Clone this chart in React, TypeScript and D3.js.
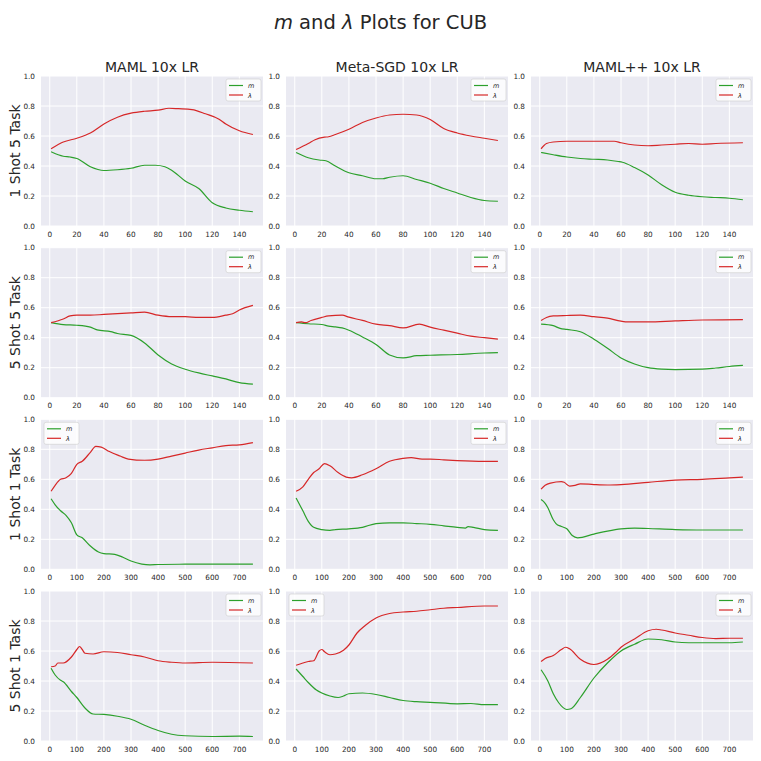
import React from "react";
import * as d3 from "d3";

type Pt = [number, number];

const columnTitles = ["MAML 10x LR", "Meta-SGD 10x LR", "MAML++ 10x LR"];
const rowTitles = ["1 Shot 5 Task", "5 Shot 5 Task", "1 Shot 1 Task", "5 Shot 1 Task"];
const shortTicks = [0, 20, 40, 60, 80, 100, 120, 140];
const longTicks = [0, 100, 200, 300, 400, 500, 600, 700];
const yTicks = [0, 0.2, 0.4, 0.6, 0.8, 1.0];
const legendLeft = [[false, false, false], [false, false, false], [true, false, false], [false, true, false]];

// Row 1: 1 Shot 5 Task
const m_r1c1: Pt[] = [[1,0.495],[10,0.465],[15,0.46],[20,0.45],[30,0.395],[40,0.37],[50,0.375],[60,0.385],[70,0.405],[78,0.405],[85,0.395],[90,0.372],[100,0.30],[110,0.25],[120,0.155],[130,0.12],[140,0.105],[150,0.095]];
const l_r1c1: Pt[] = [[1,0.515],[10,0.56],[20,0.585],[30,0.62],[40,0.68],[50,0.725],[60,0.752],[70,0.765],[80,0.772],[88,0.785],[95,0.782],[105,0.776],[115,0.748],[125,0.712],[130,0.68],[140,0.635],[150,0.61]];
const m_r1c2: Pt[] = [[1,0.49],[10,0.455],[18,0.44],[23,0.435],[30,0.40],[40,0.355],[50,0.335],[60,0.315],[65,0.315],[70,0.325],[80,0.335],[90,0.31],[100,0.285],[110,0.25],[120,0.22],[130,0.19],[140,0.17],[150,0.165]];
const l_r1c2: Pt[] = [[1,0.51],[10,0.55],[15,0.575],[22,0.592],[25,0.595],[30,0.61],[40,0.645],[50,0.69],[60,0.72],[70,0.74],[80,0.745],[90,0.74],[100,0.71],[110,0.65],[120,0.62],[130,0.60],[140,0.585],[150,0.57]];
const m_r1c3: Pt[] = [[1,0.49],[10,0.475],[20,0.46],[30,0.45],[40,0.445],[50,0.44],[58,0.43],[61,0.425],[70,0.39],[80,0.34],[90,0.275],[100,0.225],[110,0.205],[120,0.195],[130,0.19],[140,0.185],[150,0.175]];
const l_r1c3: Pt[] = [[1,0.515],[5,0.55],[10,0.56],[20,0.565],[40,0.565],[55,0.565],[60,0.555],[70,0.54],[80,0.535],[90,0.54],[100,0.545],[110,0.55],[120,0.545],[130,0.55],[150,0.555]];

// Row 2: 5 Shot 5 Task
const m_r2c1: Pt[] = [[1,0.50],[10,0.487],[20,0.483],[30,0.47],[35,0.452],[45,0.44],[50,0.428],[60,0.415],[70,0.365],[80,0.285],[90,0.225],[100,0.19],[110,0.165],[120,0.145],[130,0.125],[140,0.10],[150,0.09]];
const l_r2c1: Pt[] = [[1,0.50],[10,0.525],[15,0.545],[20,0.55],[30,0.55],[40,0.555],[50,0.56],[60,0.565],[70,0.57],[80,0.55],[90,0.54],[100,0.54],[110,0.535],[120,0.535],[130,0.55],[135,0.56],[140,0.585],[150,0.615]];
const m_r2c2: Pt[] = [[1,0.50],[10,0.493],[20,0.488],[25,0.477],[30,0.472],[35,0.465],[40,0.45],[50,0.405],[60,0.355],[70,0.285],[80,0.265],[90,0.28],[100,0.283],[120,0.288],[140,0.298],[150,0.30]];
const l_r2c2: Pt[] = [[1,0.50],[5,0.505],[8,0.50],[12,0.515],[20,0.535],[25,0.545],[35,0.55],[40,0.537],[50,0.515],[60,0.49],[70,0.48],[80,0.465],[92,0.49],[100,0.47],[110,0.45],[120,0.43],[130,0.41],[140,0.40],[150,0.39]];
const m_r2c3: Pt[] = [[1,0.49],[10,0.48],[15,0.462],[20,0.455],[30,0.44],[40,0.39],[50,0.33],[60,0.265],[70,0.225],[80,0.20],[90,0.19],[100,0.187],[120,0.19],[130,0.198],[140,0.208],[150,0.215]];
const l_r2c3: Pt[] = [[1,0.515],[5,0.535],[10,0.545],[20,0.548],[30,0.55],[40,0.54],[50,0.53],[60,0.51],[65,0.505],[80,0.505],[100,0.512],[120,0.518],[150,0.52]];

// Row 3: 1 Shot 1 Task
const m_r3c1: Pt[] = [[5,0.47],[20,0.43],[40,0.39],[60,0.36],[80,0.31],[100,0.23],[120,0.21],[150,0.155],[180,0.115],[200,0.105],[240,0.10],[270,0.08],[300,0.055],[340,0.035],[370,0.03],[400,0.032],[500,0.034],[600,0.035],[750,0.035]];
const l_r3c1: Pt[] = [[5,0.52],[20,0.56],[40,0.60],[60,0.61],[80,0.64],[100,0.70],[120,0.72],[150,0.78],[170,0.82],[190,0.815],[220,0.785],[260,0.755],[290,0.735],[350,0.727],[400,0.735],[450,0.755],[500,0.775],[550,0.795],[600,0.81],[650,0.825],[700,0.83],[750,0.845]];
const m_r3c2: Pt[] = [[5,0.475],[30,0.39],[50,0.32],[70,0.28],[100,0.265],[130,0.26],[150,0.265],[200,0.27],[250,0.28],[300,0.305],[350,0.31],[400,0.31],[450,0.305],[500,0.30],[550,0.29],[600,0.28],[630,0.275],[640,0.285],[660,0.28],[700,0.265],[750,0.26]];
const l_r3c2: Pt[] = [[5,0.52],[30,0.55],[50,0.60],[70,0.645],[90,0.67],[110,0.705],[130,0.69],[160,0.645],[190,0.615],[210,0.61],[250,0.63],[300,0.67],[350,0.72],[400,0.74],[430,0.745],[470,0.735],[500,0.735],[550,0.73],[600,0.725],[700,0.72],[750,0.72]];
const m_r3c3: Pt[] = [[5,0.465],[20,0.44],[30,0.41],[50,0.33],[60,0.305],[80,0.285],[100,0.27],[120,0.225],[140,0.21],[200,0.235],[250,0.255],[300,0.27],[350,0.275],[400,0.272],[500,0.265],[600,0.262],[750,0.262]];
const l_r3c3: Pt[] = [[5,0.535],[20,0.56],[40,0.575],[80,0.585],[90,0.58],[110,0.555],[130,0.56],[150,0.57],[200,0.565],[250,0.562],[300,0.565],[400,0.58],[500,0.595],[600,0.60],[700,0.61],[750,0.615]];

// Row 4: 5 Shot 1 Task
const m_r4c1: Pt[] = [[5,0.485],[20,0.44],[40,0.405],[50,0.395],[80,0.33],[100,0.29],[130,0.22],[160,0.18],[200,0.177],[250,0.165],[300,0.145],[350,0.105],[400,0.07],[450,0.045],[500,0.035],[600,0.03],[700,0.032],[750,0.03]];
const l_r4c1: Pt[] = [[5,0.495],[20,0.50],[30,0.52],[50,0.52],[80,0.56],[100,0.61],[110,0.63],[120,0.61],[130,0.585],[160,0.58],[200,0.595],[250,0.59],[300,0.575],[350,0.56],[400,0.535],[450,0.525],[500,0.52],[600,0.525],[750,0.52]];
const m_r4c2: Pt[] = [[5,0.48],[30,0.43],[50,0.39],[80,0.34],[100,0.32],[130,0.30],[160,0.29],[180,0.30],[200,0.315],[250,0.32],[300,0.31],[350,0.29],[400,0.27],[450,0.262],[500,0.258],[600,0.248],[650,0.25],[700,0.242],[750,0.243]];
const l_r4c2: Pt[] = [[5,0.505],[30,0.52],[50,0.53],[70,0.535],[90,0.60],[100,0.61],[110,0.595],[130,0.575],[150,0.58],[180,0.605],[200,0.64],[230,0.72],[260,0.77],[300,0.82],[350,0.85],[400,0.86],[450,0.865],[500,0.875],[550,0.885],[600,0.89],[700,0.9],[750,0.90]];
const m_r4c3: Pt[] = [[5,0.475],[30,0.40],[50,0.315],[70,0.255],[100,0.21],[115,0.215],[150,0.29],[200,0.42],[250,0.52],[300,0.60],[350,0.645],[400,0.68],[450,0.675],[500,0.66],[550,0.655],[600,0.655],[650,0.655],[700,0.655],[750,0.66]];
const l_r4c3: Pt[] = [[5,0.53],[20,0.55],[50,0.57],[80,0.61],[95,0.625],[110,0.615],[150,0.545],[200,0.51],[250,0.545],[280,0.59],[300,0.625],[350,0.68],[400,0.735],[430,0.745],[450,0.74],[500,0.72],[550,0.705],[600,0.69],[650,0.683],[700,0.685],[750,0.685]];

const mSeries: Pt[][][] = [
  [m_r1c1, m_r1c2, m_r1c3],
  [m_r2c1, m_r2c2, m_r2c3],
  [m_r3c1, m_r3c2, m_r3c3],
  [m_r4c1, m_r4c2, m_r4c3],
];
const lSeries: Pt[][][] = [
  [l_r1c1, l_r1c2, l_r1c3],
  [l_r2c1, l_r2c2, l_r2c3],
  [l_r3c1, l_r3c2, l_r3c3],
  [l_r4c1, l_r4c2, l_r4c3],
];

const FONT = "DejaVu Sans";
const GREEN = "#2ca02c";
const RED = "#d62728";
const BG = "#eaeaf2";
const TXT = "#262626";

const colLeft = [41, 286, 531];
const rowTop = [76, 247.7, 419.3, 591];
const PW = 222;
const PH = 150;

function Panel({ r, c }: { r: number; c: number }) {
  const short = r < 2;
  const lo = short ? 1 : 5;
  const hi = short ? 150 : 750;
  const pad = (hi - lo) * 0.05;
  const x = d3.scaleLinear().domain([lo - pad, hi + pad]).range([0, PW]);
  const y = d3.scaleLinear().domain([0, 1]).range([PH, 0]);
  const ticks = short ? shortTicks : longTicks;
  const line = d3
    .line<Pt>()
    .x((d) => x(d[0]))
    .y((d) => y(d[1]))
    .curve(d3.curveMonotoneX);
  const left = legendLeft[r][c];
  const lw = 35;
  const lh = 22;
  const lx = left ? 3 : PW - lw - 2;
  const ly = 3;
  return (
    <g transform={`translate(${colLeft[c]},${rowTop[r]})`}>
      <rect width={PW} height={PH} fill={BG} />
      {ticks.map((t) => (
        <line key={"vx" + t} x1={x(t)} x2={x(t)} y1={0} y2={PH} stroke="#fff" strokeWidth={1} />
      ))}
      {yTicks.map((t) => (
        <line key={"hy" + t} x1={0} x2={PW} y1={y(t)} y2={y(t)} stroke="#fff" strokeWidth={1} />
      ))}
      {ticks.map((t) => (
        <text key={"tx" + t} x={x(t)} y={PH + 10.5} fontSize={7.3} fill={TXT} textAnchor="middle" fontFamily={FONT}>
          {t}
        </text>
      ))}
      {yTicks.map((t) => (
        <text key={"ty" + t} x={-6} y={y(t) + 2.6} fontSize={7.3} fill={TXT} textAnchor="end" fontFamily={FONT}>
          {t.toFixed(1)}
        </text>
      ))}
      <path d={line(mSeries[r][c]) || ""} fill="none" stroke={GREEN} strokeWidth={1.2} />
      <path d={line(lSeries[r][c]) || ""} fill="none" stroke={RED} strokeWidth={1.2} />
      <g transform={`translate(${lx},${ly})`}>
        <rect width={lw} height={lh} rx={2} fill="#ffffff" fillOpacity={0.8} stroke="#cccccc" strokeWidth={0.6} />
        <line x1={3} x2={17} y1={6.5} y2={6.5} stroke={GREEN} strokeWidth={1.2} />
        <line x1={3} x2={17} y1={16} y2={16} stroke={RED} strokeWidth={1.2} />
        <text x={22} y={8.8} fontSize={6.5} fontStyle="italic" fill={TXT} fontFamily={FONT}>m</text>
        <text x={22} y={18.5} fontSize={6.5} fontStyle="italic" fill={TXT} fontFamily={FONT}>λ</text>
      </g>
    </g>
  );
}

export default function App() {
  const rows = [0, 1, 2, 3];
  const cols = [0, 1, 2];
  return (
    <svg width={761} height={761} style={{ position: "absolute", left: 0, top: 0, background: "#fff" }}>
      <text x={380.5} y={29} fontSize={19.5} textAnchor="middle" fill={TXT} fontFamily={FONT}>
        <tspan fontStyle="italic">m</tspan>
        <tspan> and </tspan>
        <tspan fontStyle="italic">λ</tspan>
        <tspan> Plots for CUB</tspan>
      </text>
      {cols.map((c) => (
        <text key={"ct" + c} x={colLeft[c] + PW / 2} y={72} fontSize={14} textAnchor="middle" fill={TXT} fontFamily={FONT}>
          {columnTitles[c]}
        </text>
      ))}
      {rows.map((r) => (
        <text
          key={"rt" + r}
          transform={`translate(20,${rowTop[r] + PH / 2}) rotate(-90)`}
          fontSize={14}
          textAnchor="middle"
          fill={TXT}
          fontFamily={FONT}
        >
          {rowTitles[r]}
        </text>
      ))}
      {rows.map((r) => cols.map((c) => <Panel key={`p${r}${c}`} r={r} c={c} />))}
    </svg>
  );
}
